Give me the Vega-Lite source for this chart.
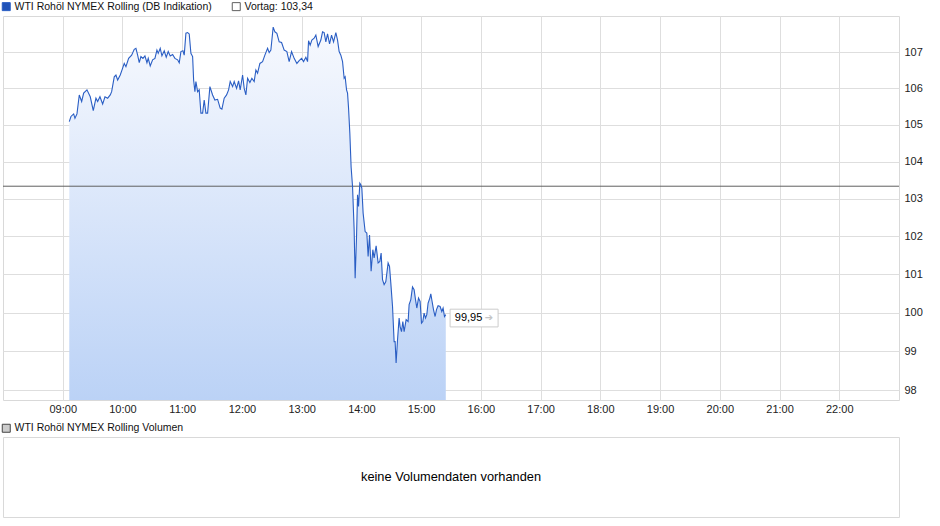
{
  "$schema": "https://vega.github.io/schema/vega-lite/v6.json",
  "background": "white",
  "padding": {"left": 0, "top": 0, "right": 0, "bottom": 0},
  "bounds": "flush",
  "spacing": 37,
  "resolve": {"scale": {"x": "independent", "y": "independent", "color": "independent"}, "legend": {"color": "independent"}},
  "config": {
    "font": "Liberation Sans",
    "view": {"stroke": "#d9d9d9"},
    "axis": {"gridColor": "#dedede", "gridWidth": 1, "labelFont": "Liberation Sans", "labelFontSize": 11, "labelColor": "#222222", "ticks": false, "domain": false, "title": null},
    "legend": {"labelFont": "Liberation Sans", "labelFontSize": 10.5, "labelColor": "#111111"}
  },
  "vconcat": [
    {
      "width": 896,
      "height": 384,
      "data": {
        "format": {"parse": {"t": "utc:'%H:%M:%S'"}},
        "values": [
          {"t": "09:06:34", "p": 105.09}, {"t": "09:08:16", "p": 105.23}, {"t": "09:10:59", "p": 105.30}, {"t": "09:12:17", "p": 105.18},
          {"t": "09:14:18", "p": 105.30}, {"t": "09:16:37", "p": 105.82}, {"t": "09:19:01", "p": 105.64}, {"t": "09:21:01", "p": 105.87},
          {"t": "09:24:20", "p": 105.96}, {"t": "09:27:39", "p": 105.77}, {"t": "09:30:40", "p": 105.39}, {"t": "09:33:22", "p": 105.73},
          {"t": "09:35:05", "p": 105.64}, {"t": "09:37:23", "p": 105.77}, {"t": "09:40:06", "p": 105.57}, {"t": "09:42:25", "p": 105.77},
          {"t": "09:45:07", "p": 105.73}, {"t": "09:47:44", "p": 105.82}, {"t": "09:49:08", "p": 105.91}, {"t": "09:51:45", "p": 106.32},
          {"t": "09:53:27", "p": 106.37}, {"t": "09:55:10", "p": 106.23}, {"t": "09:57:46", "p": 106.37}, {"t": "10:00:11", "p": 106.56},
          {"t": "10:01:47", "p": 106.69}, {"t": "10:03:29", "p": 106.60}, {"t": "10:06:12", "p": 106.83}, {"t": "10:09:13", "p": 106.92},
          {"t": "10:11:50", "p": 107.08}, {"t": "10:13:32", "p": 107.11}, {"t": "10:15:14", "p": 106.92}, {"t": "10:16:51", "p": 106.71},
          {"t": "10:18:33", "p": 106.88}, {"t": "10:20:34", "p": 106.83}, {"t": "10:22:34", "p": 106.90}, {"t": "10:24:35", "p": 106.71},
          {"t": "10:25:53", "p": 106.83}, {"t": "10:27:53", "p": 106.62}, {"t": "10:30:18", "p": 106.79}, {"t": "10:32:37", "p": 106.83},
          {"t": "10:34:37", "p": 107.06}, {"t": "10:35:55", "p": 106.97}, {"t": "10:37:56", "p": 107.11}, {"t": "10:39:38", "p": 106.90},
          {"t": "10:41:57", "p": 107.04}, {"t": "10:43:57", "p": 106.86}, {"t": "10:45:58", "p": 107.02}, {"t": "10:47:58", "p": 106.90},
          {"t": "10:50:23", "p": 106.94}, {"t": "10:52:41", "p": 106.83}, {"t": "10:55:24", "p": 106.79}, {"t": "10:57:01", "p": 106.71},
          {"t": "10:58:43", "p": 107.02}, {"t": "11:00:43", "p": 107.04}, {"t": "11:02:02", "p": 106.92}, {"t": "11:03:44", "p": 107.53},
          {"t": "11:05:26", "p": 107.55}, {"t": "11:07:03", "p": 107.51}, {"t": "11:08:45", "p": 106.97}, {"t": "11:10:28", "p": 106.88},
          {"t": "11:11:28", "p": 106.23}, {"t": "11:12:46", "p": 105.91}, {"t": "11:13:46", "p": 106.19}, {"t": "11:15:29", "p": 105.91},
          {"t": "11:17:05", "p": 105.96}, {"t": "11:18:48", "p": 105.32}, {"t": "11:20:30", "p": 105.32}, {"t": "11:22:06", "p": 105.68},
          {"t": "11:23:49", "p": 105.32}, {"t": "11:25:31", "p": 105.32}, {"t": "11:27:50", "p": 106.05}, {"t": "11:30:32", "p": 105.82},
          {"t": "11:32:51", "p": 105.68}, {"t": "11:35:34", "p": 105.70}, {"t": "11:38:10", "p": 105.46}, {"t": "11:39:53", "p": 105.43},
          {"t": "11:42:11", "p": 105.73}, {"t": "11:44:35", "p": 105.82}, {"t": "11:46:36", "p": 105.96}, {"t": "11:48:13", "p": 106.19},
          {"t": "11:50:37", "p": 106.05}, {"t": "11:52:14", "p": 106.19}, {"t": "11:54:38", "p": 106.00}, {"t": "11:56:38", "p": 106.21},
          {"t": "11:58:15", "p": 105.96}, {"t": "12:00:40", "p": 106.37}, {"t": "12:02:16", "p": 106.00}, {"t": "12:03:58", "p": 105.82},
          {"t": "12:05:41", "p": 106.28}, {"t": "12:07:59", "p": 106.16}, {"t": "12:09:59", "p": 106.28}, {"t": "12:12:18", "p": 106.19},
          {"t": "12:14:01", "p": 106.51}, {"t": "12:15:43", "p": 106.42}, {"t": "12:18:02", "p": 106.69}, {"t": "12:20:44", "p": 106.74},
          {"t": "12:23:03", "p": 106.92}, {"t": "12:25:46", "p": 107.11}, {"t": "12:27:22", "p": 106.99}, {"t": "12:29:04", "p": 107.06},
          {"t": "12:31:23", "p": 107.70}, {"t": "12:33:05", "p": 107.57}, {"t": "12:35:06", "p": 107.53}, {"t": "12:37:25", "p": 107.29},
          {"t": "12:39:49", "p": 107.27}, {"t": "12:42:26", "p": 107.06}, {"t": "12:45:08", "p": 107.02}, {"t": "12:47:27", "p": 106.74},
          {"t": "12:49:51", "p": 107.02}, {"t": "12:52:28", "p": 106.83}, {"t": "12:55:11", "p": 106.69}, {"t": "12:57:29", "p": 106.77},
          {"t": "12:59:53", "p": 106.83}, {"t": "13:01:54", "p": 106.74}, {"t": "13:04:13", "p": 106.86}, {"t": "13:05:55", "p": 106.74},
          {"t": "13:06:55", "p": 107.32}, {"t": "13:08:32", "p": 107.20}, {"t": "13:10:14", "p": 107.34}, {"t": "13:12:33", "p": 107.39},
          {"t": "13:14:15", "p": 107.48}, {"t": "13:16:34", "p": 107.16}, {"t": "13:19:16", "p": 107.34}, {"t": "13:20:59", "p": 107.57},
          {"t": "13:22:35", "p": 107.55}, {"t": "13:24:17", "p": 107.29}, {"t": "13:26:00", "p": 107.51}, {"t": "13:28:01", "p": 107.23},
          {"t": "13:30:01", "p": 107.48}, {"t": "13:32:01", "p": 107.29}, {"t": "13:34:20", "p": 107.55}, {"t": "13:36:02", "p": 107.34},
          {"t": "13:37:39", "p": 107.02}, {"t": "13:39:21", "p": 106.92}, {"t": "13:41:04", "p": 106.74}, {"t": "13:42:40", "p": 106.28},
          {"t": "13:43:40", "p": 106.32}, {"t": "13:45:05", "p": 105.96}, {"t": "13:46:05", "p": 105.87}, {"t": "13:47:05", "p": 105.46},
          {"t": "13:48:23", "p": 104.77}, {"t": "13:49:41", "p": 103.85}, {"t": "13:51:06", "p": 103.33}, {"t": "13:52:43", "p": 102.18},
          {"t": "13:53:43", "p": 100.90}, {"t": "13:55:07", "p": 102.00}, {"t": "13:56:07", "p": 103.11}, {"t": "13:57:07", "p": 102.80},
          {"t": "13:58:26", "p": 103.42}, {"t": "13:59:26", "p": 103.38}, {"t": "14:00:26", "p": 103.29}, {"t": "14:01:44", "p": 102.62},
          {"t": "14:03:45", "p": 102.13}, {"t": "14:05:27", "p": 102.09}, {"t": "14:06:45", "p": 101.47}, {"t": "14:08:10", "p": 102.04},
          {"t": "14:09:46", "p": 101.08}, {"t": "14:11:29", "p": 101.65}, {"t": "14:12:47", "p": 101.43}, {"t": "14:14:48", "p": 101.75},
          {"t": "14:16:48", "p": 101.30}, {"t": "14:18:31", "p": 101.34}, {"t": "14:19:49", "p": 101.56}, {"t": "14:21:13", "p": 100.86},
          {"t": "14:22:50", "p": 100.73}, {"t": "14:24:32", "p": 100.81}, {"t": "14:26:50", "p": 101.30}, {"t": "14:28:15", "p": 101.21},
          {"t": "14:29:33", "p": 100.77}, {"t": "14:31:16", "p": 100.16}, {"t": "14:32:52", "p": 99.25}, {"t": "14:33:52", "p": 99.25},
          {"t": "14:34:52", "p": 98.70}, {"t": "14:36:17", "p": 99.30}, {"t": "14:37:53", "p": 99.86}, {"t": "14:38:53", "p": 99.64},
          {"t": "14:40:17", "p": 99.51}, {"t": "14:41:36", "p": 99.77}, {"t": "14:42:55", "p": 99.51}, {"t": "14:44:55", "p": 99.82},
          {"t": "14:46:55", "p": 99.77}, {"t": "14:47:56", "p": 100.21}, {"t": "14:49:38", "p": 100.34}, {"t": "14:51:20", "p": 100.67},
          {"t": "14:52:57", "p": 100.60}, {"t": "14:54:21", "p": 100.34}, {"t": "14:55:40", "p": 100.12}, {"t": "14:57:22", "p": 100.38},
          {"t": "14:58:58", "p": 100.29}, {"t": "15:00:22", "p": 99.73}, {"t": "15:01:41", "p": 99.77}, {"t": "15:02:59", "p": 99.99},
          {"t": "15:04:23", "p": 99.86}, {"t": "15:05:42", "p": 99.95}, {"t": "15:07:00", "p": 100.25}, {"t": "15:08:43", "p": 100.38},
          {"t": "15:09:43", "p": 100.49}, {"t": "15:11:01", "p": 100.29}, {"t": "15:12:25", "p": 100.08}, {"t": "15:14:02", "p": 99.90},
          {"t": "15:15:26", "p": 100.08}, {"t": "15:17:02", "p": 100.18}, {"t": "15:19:03", "p": 100.16}, {"t": "15:20:46", "p": 100.03},
          {"t": "15:22:04", "p": 100.12}, {"t": "15:23:28", "p": 99.90}, {"t": "15:24:46", "p": 99.95}
        ]
      },
      "layer": [
        {
          "mark": {
            "type": "area", "line": false,
            "color": {"x1": 0, "y1": 0, "x2": 0, "y2": 1, "gradient": "linear", "stops": [{"offset": 0, "color": "#f7f9fe"}, {"offset": 1, "color": "#bbd2f6"}]}
          },
          "encoding": {
            "x": {
              "field": "t", "type": "temporal",
              "scale": {"type": "utc", "domain": [{"year": 1900, "month": 1, "date": 1, "hours": 8, "utc": true}, {"year": 1900, "month": 1, "date": 1, "hours": 23, "utc": true}]},
              "axis": {
                "format": "%H:%M", "labelPadding": 3, "grid": true,
                "values": [
                  {"year": 1900, "month": 1, "date": 1, "hours": 9, "utc": true}, {"year": 1900, "month": 1, "date": 1, "hours": 10, "utc": true},
                  {"year": 1900, "month": 1, "date": 1, "hours": 11, "utc": true}, {"year": 1900, "month": 1, "date": 1, "hours": 12, "utc": true},
                  {"year": 1900, "month": 1, "date": 1, "hours": 13, "utc": true}, {"year": 1900, "month": 1, "date": 1, "hours": 14, "utc": true},
                  {"year": 1900, "month": 1, "date": 1, "hours": 15, "utc": true}, {"year": 1900, "month": 1, "date": 1, "hours": 16, "utc": true},
                  {"year": 1900, "month": 1, "date": 1, "hours": 17, "utc": true}, {"year": 1900, "month": 1, "date": 1, "hours": 18, "utc": true},
                  {"year": 1900, "month": 1, "date": 1, "hours": 19, "utc": true}, {"year": 1900, "month": 1, "date": 1, "hours": 20, "utc": true},
                  {"year": 1900, "month": 1, "date": 1, "hours": 21, "utc": true}, {"year": 1900, "month": 1, "date": 1, "hours": 22, "utc": true}
                ]
              }
            },
            "y": {
              "field": "p", "type": "quantitative",
              "scale": {"type": "log", "domain": [97.756, 108.013], "nice": false, "zero": false},
              "axis": {"orient": "right", "values": [98, 99, 100, 101, 102, 103, 104, 105, 106, 107], "format": "d", "labelPadding": 5, "grid": true}
            },
            "y2": {"datum": 97.756}
          }
        },
        {
          "data": {"values": [{}]},
          "mark": {"type": "rule", "strokeWidth": 1},
          "encoding": {
            "y": {"datum": 103.34, "type": "quantitative"},
            "color": {"datum": "Vortag: 103,34", "type": "nominal"}
          }
        },
        {
          "mark": {"type": "line", "strokeWidth": 1.1, "interpolate": "linear"},
          "encoding": {
            "x": {"field": "t", "type": "temporal"},
            "y": {"field": "p", "type": "quantitative"},
            "color": {
              "datum": "WTI Rohöl NYMEX Rolling (DB Indikation)", "type": "nominal",
              "scale": {"domain": ["WTI Rohöl NYMEX Rolling (DB Indikation)", "Vortag: 103,34"], "range": ["#2a5ec4", "#5f5f5f"]},
              "legend": {
                "orient": "none", "legendX": -2, "legendY": -15, "direction": "horizontal", "title": null,
                "symbolType": "square", "symbolSize": 64, "symbolStrokeWidth": 1, "labelOffset": 3, "columnPadding": 18,
                "padding": 0, "labelFontSize": 10.5, "labelLimit": 400,
                "encode": {"symbols": {"update": {
                  "fill": {"signal": "datum.label == 'Vortag: 103,34' ? '#ffffff' : '#1f52b8'"},
                  "stroke": {"signal": "datum.label == 'Vortag: 103,34' ? '#222222' : '#1a4aa8'"},
                  "strokeWidth": {"value": 1},
                  "opacity": {"value": 1}
                }}}
              }
            }
          }
        },
        {
          "data": {"values": [{}]},
          "mark": {"type": "rect", "fill": "#ffffff", "stroke": "#cccccc", "strokeWidth": 1},
          "encoding": {
            "x": {"datum": {"year": 1900, "month": 1, "date": 1, "hours": 15, "minutes": 29, "seconds": 5, "utc": true}, "type": "temporal"},
            "x2": {"datum": {"year": 1900, "month": 1, "date": 1, "hours": 16, "minutes": 17, "seconds": 18, "utc": true}},
            "y": {"datum": 100.09, "type": "quantitative"},
            "y2": {"datum": 99.63}
          }
        },
        {
          "data": {"values": [{}]},
          "mark": {"type": "text", "text": "99,95", "fontSize": 11, "align": "left", "baseline": "middle", "color": "#000000"},
          "encoding": {
            "x": {"datum": {"year": 1900, "month": 1, "date": 1, "hours": 15, "minutes": 33, "seconds": 48, "utc": true}, "type": "temporal"},
            "y": {"datum": 99.86, "type": "quantitative"}
          }
        },
        {
          "data": {"values": [{}]},
          "mark": {"type": "text", "text": "➔", "font": "DejaVu Sans", "fontSize": 10, "align": "center", "baseline": "middle", "color": "#c4c4c4"},
          "encoding": {
            "x": {"datum": {"year": 1900, "month": 1, "date": 1, "hours": 16, "minutes": 8, "utc": true}, "type": "temporal"},
            "y": {"datum": 99.86, "type": "quantitative"}
          }
        }
      ]
    },
    {
      "width": 896,
      "height": 80,
      "data": {"values": [{"msg": "keine Volumendaten vorhanden"}]},
      "encoding": {
        "x": {"datum": 0.5, "type": "quantitative", "scale": {"domain": [0, 1]}, "axis": null},
        "y": {"datum": 0.5, "type": "quantitative", "scale": {"domain": [0, 1]}, "axis": null}
      },
      "layer": [
        {
          "mark": {"type": "text", "fontSize": 12.8, "align": "center", "baseline": "middle", "color": "#000000"},
          "encoding": {"text": {"field": "msg"}}
        },
        {
          "mark": {"type": "point", "filled": true, "opacity": 0, "size": 1},
          "encoding": {
            "color": {
              "datum": "WTI Rohöl NYMEX Rolling Volumen", "type": "nominal",
              "scale": {"range": ["#cccccc"]},
              "legend": {
                "orient": "none", "legendX": -2, "legendY": -14, "direction": "horizontal", "title": null,
                "symbolType": "square", "symbolSize": 64, "labelOffset": 3, "padding": 0, "labelFontSize": 10.5, "labelLimit": 400,
                "symbolOpacity": 1, "symbolFillColor": "#cccccc", "symbolStrokeColor": "#444444", "symbolStrokeWidth": 1,
                "encode": {"symbols": {"update": {
                  "fill": {"signal": "'#cccccc'"},
                  "stroke": {"signal": "'#444444'"},
                  "strokeWidth": {"value": 1},
                  "opacity": {"value": 1}
                }}}
              }
            }
          }
        }
      ]
    }
  ]
}
